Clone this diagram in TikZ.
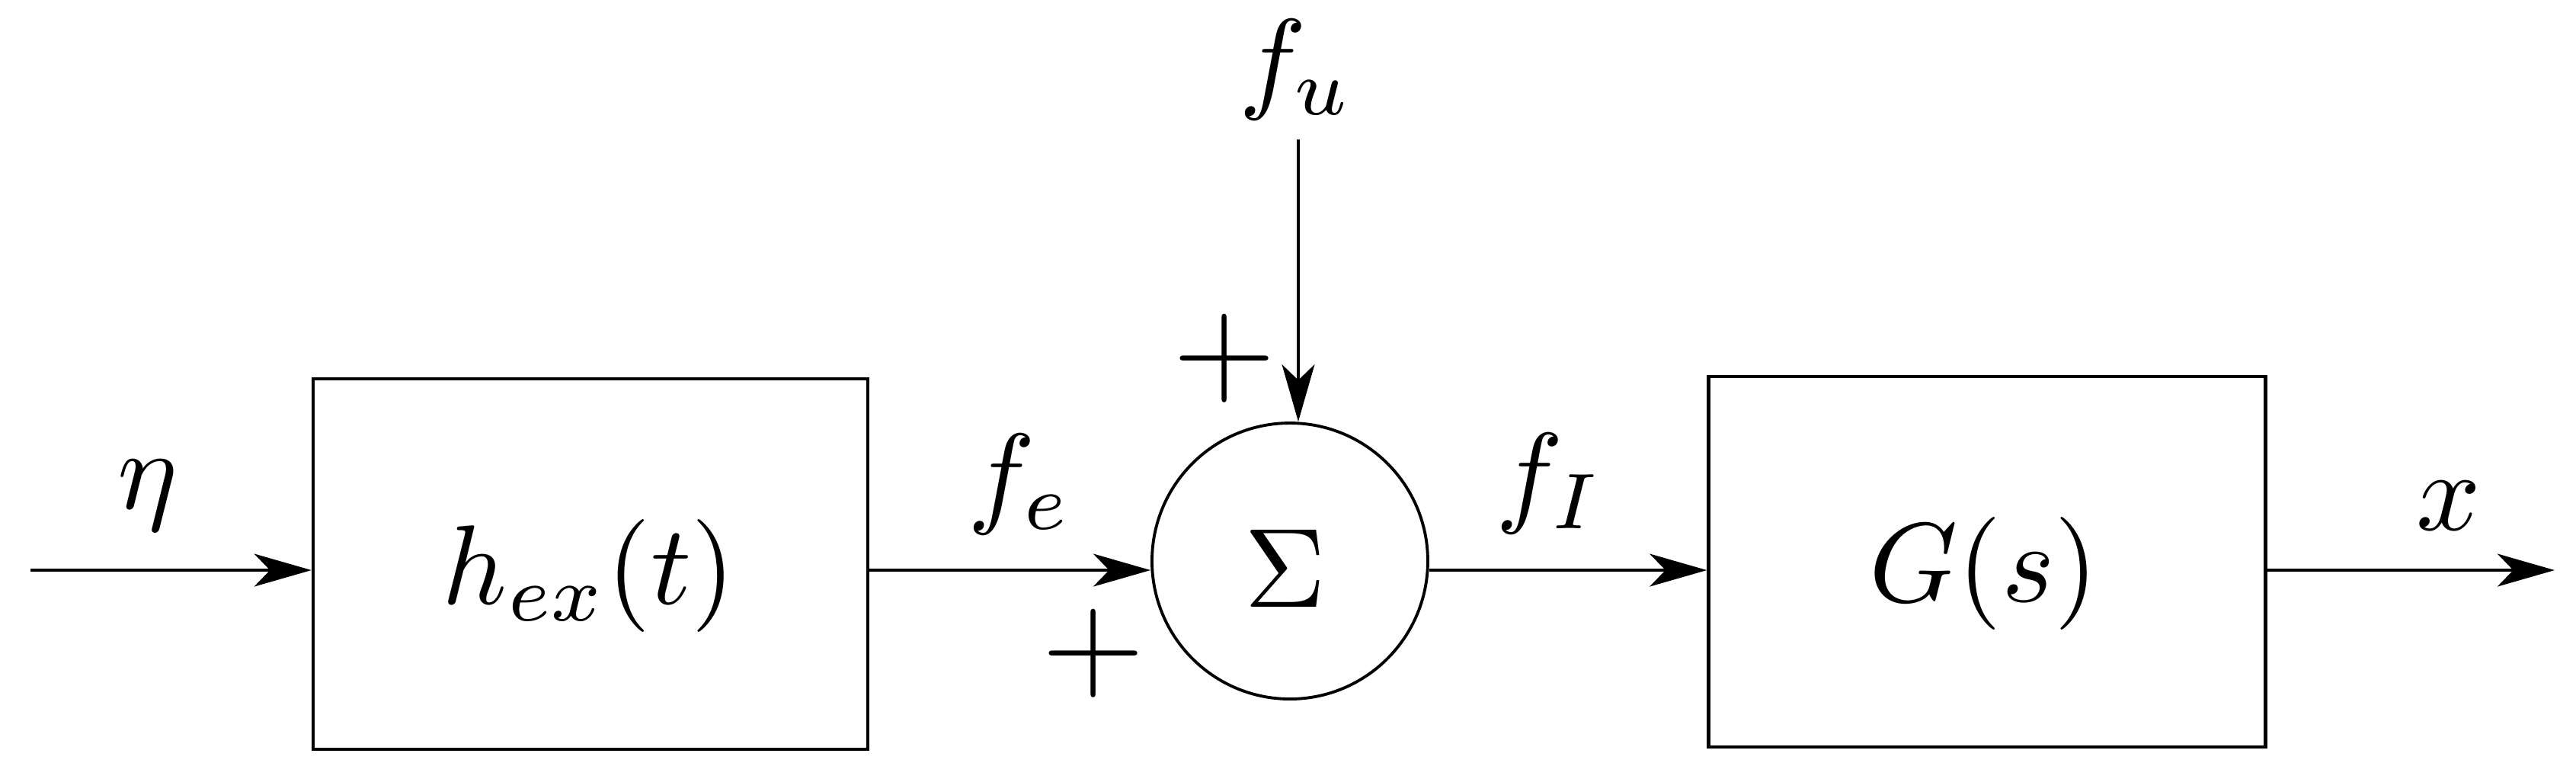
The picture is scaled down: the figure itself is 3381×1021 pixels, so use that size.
\documentclass[tikz,border=0pt]{standalone}
\usetikzlibrary{arrows.meta,calc}
\begin{document}
\begin{tikzpicture}[x=0.067568pt,y=-0.067568pt,
  line width=0.28pt,
  blk/.style={draw,rectangle,inner sep=0pt,line width=0.3pt},
  sumnode/.style={draw,circle,inner sep=0pt,minimum size=24.46pt,line width=0.26pt},
  lbl/.style={inner sep=0pt},
  plus/.style={inner sep=0pt,font=\fontsize{12.3}{14}\selectfont},
  arr/.style={-{Stealth[length=5.07pt,width=2.9pt,inset=1.4pt]}}]
\useasboundingbox (0,0) rectangle (3381,1021);
% blocks
\node[blk,minimum width=49.19pt,minimum height=32.84pt] (h) at (775,740) {};
\node[lbl] (htxt) at (773,755) {$h_{ex}(t)$};
\node[sumnode] (sum) at (1693,736) {};
\node[lbl] (sig) at (1687,746) {$\Sigma$};
\node[blk,minimum width=49.39pt,minimum height=32.84pt] (g) at (2608,737) {};
\node[lbl] (gtxt) at (2604,752) {$G(s)$};
% coordinates
\coordinate (in) at (40,748);
\coordinate (out) at (3353,748);
\coordinate (fu) at (1704,183);
% connectors
\draw[arr] (in) -- (in -| h.west);
\draw[arr] (h.east |- in) -- (sum.west |- in);
\draw[arr] (sum.east |- in) -- (g.west |- in);
\draw[arr] (g.east |- in) -- (out);
\draw[arr] (fu) -- (fu |- sum.north);
% labels
\node[lbl] (eta) at (194,650) {$\eta$};
\node[lbl] (fe) at (1339,635) {$f_e$};
\node[lbl] (fI) at (2034,634) {$f_I$};
\node[lbl] (fuL) at (1701,91) {$f_u$};
\node[lbl] (xL) at (3214,664) {$x$};
\node[plus] (p1) at (1607,470) {$+$};
\node[plus] (p2) at (1435,857) {$+$};
\end{tikzpicture}
\end{document}
